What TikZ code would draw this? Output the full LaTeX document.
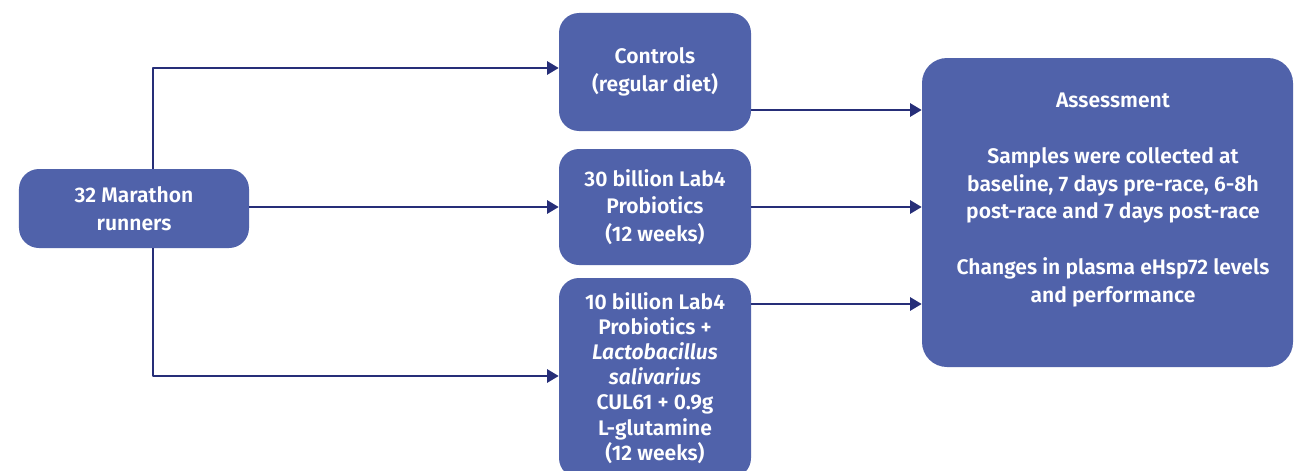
\documentclass[tikz,border=0pt]{standalone}
\usepackage{fontspec}
\setmainfont{Fira Sans}[BoldFont=Fira Sans SemiBold, BoldItalicFont=Fira Sans SemiBold Italic]
\usetikzlibrary{arrows.meta}
\definecolor{boxblue}{RGB}{80,98,170}
\definecolor{linenavy}{RGB}{38,46,120}
\tikzset{
	group/.style={draw=none,fill=boxblue,rounded corners=0.4cm,text=white,align=center,
		font=\fontsize{12}{15.8}\selectfont\bfseries,inner sep=0pt},
	link/.style={draw=linenavy,line width=1.1pt,-{Triangle[length=6.5pt,width=7.5pt]}},
}
\begin{document}
\begin{tikzpicture}[line join=round]
	\useasboundingbox (0,0) rectangle (25.88,9.4);
	\node[group,minimum width=4.6cm,minimum height=1.58cm] (runners) at (2.68,5.23) {32 Marathon\\runners};
	\node[group,minimum width=3.84cm,minimum height=2.36cm] (controls) at (13.10,7.96) {Controls\\(regular diet)};
	\node[group,minimum width=3.84cm,minimum height=2.32cm] (probio) at (13.10,5.26) {30 billion Lab4\\Probiotics\\(12 weeks)};
	\node[group,minimum width=3.84cm,minimum height=4.0cm,font=\fontsize{12}{14.3}\selectfont\bfseries] (gluta) at (13.10,1.84)
		{10 billion Lab4\\Probiotics +\\\textit{Lactobacillus}\\\textit{salivarius}\\CUL61 + 0.9g\\L-glutamine\\(12 weeks)};
	\node[group,rounded corners=0.5cm,minimum width=7.42cm,minimum height=6.18cm] (assess) at (22.15,5.15) {};
	\node[align=center,text=white,font=\fontsize{12}{15.8}\selectfont\bfseries] (assesstext) at ([xshift=0.11cm,yshift=0.25cm]assess.center)
		{Assessment\\[15.8pt]Samples were collected at\\baseline, 7 days pre-race, 6-8h\\post-race and 7 days post-race\\[15.8pt]Changes in plasma eHsp72 levels\\and performance};
	% split to the three groups
	\draw[link] ([xshift=0.38cm]runners.north) |- ([yshift=0.08cm]controls.west);
	\draw[link] (runners.east |- probio.west) -- (probio.west);
	\draw[link] ([xshift=0.38cm]runners.south) |- ([yshift=0.04cm]gluta.west);
	% groups to assessment
	\coordinate (c1) at ([yshift=-0.76cm]controls.east);
	\coordinate (c3) at ([yshift=1.48cm]gluta.east);
	\draw[link] (c1) -- (c1 -| assess.west);
	\draw[link] (probio.east) -- (probio.east -| assess.west);
	\draw[link] (c3) -- (c3 -| assess.west);
\end{tikzpicture}
\end{document}
